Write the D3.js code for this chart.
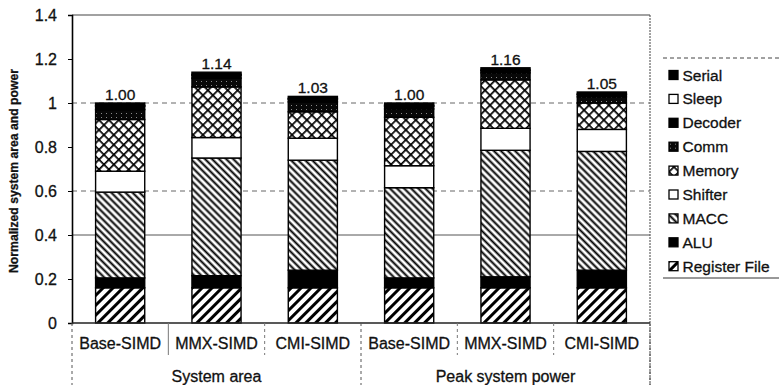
<!DOCTYPE html>
<html>
<head>
<meta charset="utf-8">
<script src="https://cdn.jsdelivr.net/npm/d3@7"></script>
<style>
  body { margin: 0; background: #fff; }
  svg { display: block; }
  text { font-family: "Liberation Sans", Arial, sans-serif; fill: #111; stroke: #111; stroke-width: 0.3px; }
</style>
</head>
<body>
<svg id="chart" width="779" height="385"></svg>
<script>
// Categories
const groups = ["System area", "Peak system power"];
const variants = ["Base-SIMD", "MMX-SIMD", "CMI-SIMD"];
const components = ["Register File", "ALU", "MACC", "Shifter", "Memory", "Comm", "Decoder", "Sleep", "Serial"];

// Normalized contribution of each component, one entry per bar:
// area Base / MMX / CMI, then peak power Base / MMX / CMI
const registerFile = [0.16, 0.16, 0.16, 0.16, 0.16, 0.16];
const alu          = [0.045, 0.055, 0.08, 0.045, 0.05, 0.08];
const macc         = [0.39, 0.535, 0.50, 0.41, 0.575, 0.54];
const shifter      = [0.095, 0.093, 0.10, 0.10, 0.10, 0.10];
const memory       = [0.235, 0.23, 0.12, 0.22, 0.22, 0.12];
const comm         = [0.045, 0.04, 0.045, 0.038, 0.032, 0.028];
const decoder      = [0.015, 0.013, 0.012, 0.012, 0.01, 0.01];
const sleep        = [0.004, 0.004, 0.004, 0.004, 0.003, 0.003];
const serial       = [0.011, 0.01, 0.009, 0.011, 0.01, 0.009];

const yTicks = [0, 0.2, 0.4, 0.6, 0.8, 1, 1.2, 1.4];
const gridSolid = [0.4];
const gridDashed = [0.6, 1];

// Build one row per bar for the stack layout
const series = [registerFile, alu, macc, shifter, memory, comm, decoder, sleep, serial];
const rows = [];
groups.forEach((g, gi) => variants.forEach((v, vi) => {
  const i = gi * variants.length + vi;
  const row = { key: g + "|" + v, group: g, variant: v };
  components.forEach((c, ci) => { row[c] = series[ci][i]; });
  rows.push(row);
}));

const svg = d3.select("#chart");
const plotLeft = 72, plotRight = 650, plotTop = 15, plotBottom = 323;

const x = d3.scaleBand().domain(rows.map(d => d.key)).range([plotLeft, plotRight])
  .paddingInner(0.49).paddingOuter(0.245);
const y = d3.scaleLinear().domain([0, 1.4]).range([plotBottom, plotTop]);

// Fill patterns
const defs = svg.append("defs");
function stripes(id, angle, size, width) {
  const p = defs.append("pattern").attr("id", id).attr("patternUnits", "userSpaceOnUse")
    .attr("width", size).attr("height", size).attr("patternTransform", `rotate(${angle})`);
  p.append("rect").attr("width", size).attr("height", size).attr("fill", "#fff");
  p.append("rect").attr("x", (size - width) / 2).attr("width", width).attr("height", size).attr("fill", "#000");
}
stripes("pat-rf", 45, 7, 3);
stripes("pat-macc", -45, 5, 2);
(function () {
  const s = 7;
  const p = defs.append("pattern").attr("id", "pat-mem").attr("patternUnits", "userSpaceOnUse")
    .attr("width", s).attr("height", s).attr("patternTransform", "rotate(45)");
  p.append("rect").attr("width", s).attr("height", s).attr("fill", "#fff");
  p.append("rect").attr("x", 0).attr("width", 1.7).attr("height", s).attr("fill", "#000");
  p.append("rect").attr("y", 0).attr("width", s).attr("height", 1.7).attr("fill", "#000");
})();
(function () {
  const p = defs.append("pattern").attr("id", "pat-comm").attr("patternUnits", "userSpaceOnUse")
    .attr("width", 5).attr("height", 4);
  p.append("rect").attr("width", 5).attr("height", 4).attr("fill", "#080808");
  p.append("rect").attr("x", 1).attr("y", 1).attr("width", 1).attr("height", 1).attr("fill", "#888");
})();

const fills = {
  "Register File": "url(#pat-rf)",
  "ALU": "#000",
  "MACC": "url(#pat-macc)",
  "Shifter": "#fff",
  "Memory": "url(#pat-mem)",
  "Comm": "url(#pat-comm)",
  "Decoder": "#000",
  "Sleep": "#fff",
  "Serial": "#000"
};

// Plot frame and gridlines
svg.append("line").attr("x1", plotLeft).attr("x2", plotRight).attr("y1", y(1.4)).attr("y2", y(1.4))
  .attr("stroke", "#444").attr("stroke-width", 1.2);
svg.append("line").attr("x1", plotRight).attr("x2", plotRight).attr("y1", y(1.4)).attr("y2", 385)
  .attr("stroke", "#444").attr("stroke-width", 1).attr("stroke-dasharray", "2,1");
svg.selectAll(".grid-solid").data(gridSolid).join("line").attr("class", "grid-solid")
  .attr("x1", plotLeft).attr("x2", plotRight).attr("y1", d => y(d)).attr("y2", d => y(d))
  .attr("stroke", "#555").attr("stroke-width", 1);
svg.selectAll(".grid-dash").data(gridDashed).join("line").attr("class", "grid-dash")
  .attr("x1", plotLeft).attr("x2", plotRight).attr("y1", d => y(d)).attr("y2", d => y(d))
  .attr("stroke", "#666").attr("stroke-width", 1).attr("stroke-dasharray", "5,4");

// Stacked bars
const stacked = d3.stack().keys(components)(rows);
svg.append("g").selectAll("g").data(stacked).join("g")
  .attr("fill", s => fills[s.key])
  .selectAll("rect").data(s => s).join("rect")
  .attr("x", d => x(d.data.key))
  .attr("width", x.bandwidth())
  .attr("y", d => y(d[1]))
  .attr("height", d => y(d[0]) - y(d[1]))
  .attr("stroke", "#000").attr("stroke-width", 1.4);

// Totals above bars
svg.append("g").selectAll("text").data(rows).join("text")
  .attr("x", d => x(d.key) + x.bandwidth() / 2)
  .attr("y", d => y(d3.sum(components, c => d[c])) - 3)
  .attr("text-anchor", "middle").attr("font-size", 15.5)
  .text(d => d3.format(".2f")(d3.sum(components, c => d[c])));

// Y axis
const yAxis = svg.append("g").attr("transform", `translate(${plotLeft},0)`)
  .call(d3.axisLeft(y).tickValues(yTicks).tickFormat(d => String(d)).tickSize(4).tickPadding(11));
yAxis.select(".domain").attr("stroke", "#000").attr("stroke-width", 1.6);
yAxis.selectAll(".tick line").attr("stroke", "#000");
yAxis.selectAll(".tick text").attr("font-size", 16).attr("font-family", "Liberation Sans, Arial, sans-serif").attr("fill", "#111");

svg.append("text")
  .attr("transform", "translate(14,171) rotate(-90)")
  .attr("text-anchor", "middle").attr("font-size", 12.2).attr("font-weight", "bold")
  .attr("dy", "0.35em")
  .text("Normalized system area and power");

// Category axis: baseline, separators and two label rows
svg.append("line").attr("x1", plotLeft).attr("x2", plotRight).attr("y1", plotBottom).attr("y2", plotBottom)
  .attr("stroke", "#222").attr("stroke-width", 1.6);

const step = x.step();
const boundaries = d3.range(rows.length + 1).map(i => plotLeft + i * step);
svg.append("g").selectAll("line").data(boundaries).join("line")
  .attr("x1", d => d).attr("x2", d => d)
  .attr("y1", plotBottom)
  .attr("y2", (d, i) => (i % variants.length === 0) ? 385 : 355)
  .attr("stroke", (d, i) => (i % variants.length === 0) ? "#555" : "#777")
  .attr("stroke-width", 1)
  .attr("stroke-dasharray", (d, i) => i === 1 ? null : "3,3");

svg.append("g").selectAll("text").data(rows).join("text")
  .attr("x", d => x(d.key) + x.bandwidth() / 2)
  .attr("y", 348.5)
  .attr("text-anchor", "middle").attr("font-size", 16)
  .text(d => d.variant);

svg.append("g").selectAll("text").data(groups).join("text")
  .attr("x", (g, gi) => plotLeft + (gi + 0.5) * variants.length * step)
  .attr("y", 381.5)
  .attr("text-anchor", "middle").attr("font-size", 16)
  .text(g => g);

// Legend
const legendTop = 58, legendBottom = 278, legendLeft = 663;
svg.append("line").attr("x1", legendLeft).attr("x2", 779).attr("y1", legendTop).attr("y2", legendTop)
  .attr("stroke", "#444").attr("stroke-dasharray", "4,3");
svg.append("line").attr("x1", legendLeft).attr("x2", 779).attr("y1", legendBottom).attr("y2", legendBottom)
  .attr("stroke", "#333");

const legendItems = components.slice().reverse();
const item = svg.append("g").selectAll("g").data(legendItems).join("g")
  .attr("transform", (d, i) => `translate(669,${75 + i * 23.9})`);
item.append("rect").attr("x", 0).attr("y", -4.5).attr("width", 9).attr("height", 9)
  .attr("fill", d => fills[d]).attr("stroke", "#000").attr("stroke-width", 1.3);
item.append("text").attr("x", 13.5).attr("dy", "0.36em").attr("font-size", 15.5).text(d => d);
</script>
</body>
</html>
